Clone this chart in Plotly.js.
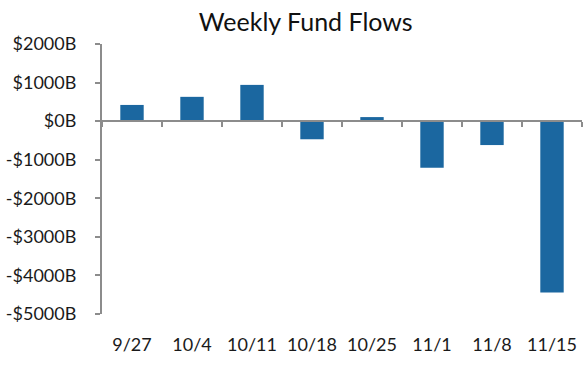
<!DOCTYPE html>
<html>
<head>
<meta charset="utf-8">
<script src="https://cdn.plot.ly/plotly-3.0.1.min.js"></script>
<style>html,body{margin:0;padding:0;background:#fff;}#chart{width:588px;height:376px;}</style>
</head>
<body>
<div id="chart"></div>
<script>
const weeks = ["9/27","10/4","10/11","10/18","10/25","11/1","11/8","11/15"];
const flows = [420, 630, 940, -470, 105, -1210, -620, -4440];
const yTickVals = [2000, 1000, 0, -1000, -2000, -3000, -4000, -5000];
const yTickText = ["$2000B","$1000B","$0B","-$1000B","-$2000B","-$3000B","-$4000B","-$5000B"];

const yMin = -5000, yMax = 2000;
const font = "Lato, 'Open Sans', sans-serif";
const idx = weeks.map((_, i) => i);

const data = [{
  type: "bar",
  x: weeks,
  y: flows,
  marker: {color: "#1b67a0"},
  hoverinfo: "x+y"
}];

const layout = {
  width: 588, height: 376,
  margin: {l: 102, r: 6, t: 44, b: 62},
  paper_bgcolor: "#fff", plot_bgcolor: "#fff",
  font: {family: font, color: "#1a1a1a", size: 17},
  title: {text: "Weekly Fund Flows", font: {family: font, size: 25, color: "#111"}, x: 0.52, xanchor: "center", y: 0.942, yanchor: "middle"},
  bargap: 0.61,
  showlegend: false,
  xaxis: {
    type: "category",
    range: [-0.5, 7.5],
    anchor: "free",
    position: (0 - yMin) / (yMax - yMin),
    showline: true, linecolor: "#8c8c8c", linewidth: 2,
    ticks: "outside", ticklen: 5, tickwidth: 2, tickcolor: "#8c8c8c",
    tickson: "boundaries",
    showticklabels: false,
    showgrid: false, zeroline: false, fixedrange: true
  },
  xaxis2: {
    overlaying: "x",
    anchor: "y",
    side: "bottom",
    range: [-0.5, 7.5],
    tickmode: "array", tickvals: idx, ticktext: weeks,
    showline: false, showgrid: false, zeroline: false,
    ticks: "", ticklabelstandoff: 18,
    tickfont: {family: font, size: 18, color: "#1a1a1a"}
  },
  yaxis: {
    range: [yMin, yMax],
    tickmode: "array", tickvals: yTickVals, ticktext: yTickText,
    showline: true, linecolor: "#8c8c8c", linewidth: 2,
    ticks: "outside", ticklen: 5, tickwidth: 2, tickcolor: "#8c8c8c",
    showgrid: false, zeroline: false,
    ticklabelstandoff: 15,
    tickfont: {family: font, size: 18, color: "#1a1a1a"}
  }
};

data.push({type: "scatter", x: idx, y: idx.map(() => null), xaxis: "x2", yaxis: "y", hoverinfo: "skip", showlegend: false});

Plotly.newPlot("chart", data, layout, {displayModeBar: false, staticPlot: true});
</script>
</body>
</html>
